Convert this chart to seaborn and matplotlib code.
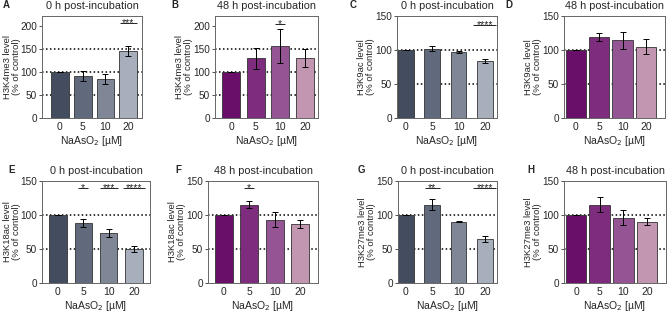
import matplotlib
matplotlib.use("Agg")
import matplotlib.pyplot as plt
import seaborn as sns
import pandas as pd

sns.set_style("white")
plt.rcParams['font.family'] = ['Liberation Sans', 'DejaVu Sans']

# data
doses = ['0', '5', '10', '20']
greys = ['#3f4b64', '#5c6782', '#7b869b', '#a4aebf']
purples = ['#780078', '#8c1f8c', '#a04a9e', '#c98fb2']

h3k4me3_0h = [100, 92, 85, 145]
h3k4me3_0h_err = [0, 11, 10, 11]
h3k4me3_48h = [100, 130, 157, 131]
h3k4me3_48h_err = [0, 23, 37, 19]
h3k9ac_0h = [100, 102, 97, 84]
h3k9ac_0h_err = [0, 4, 1, 3]
h3k9ac_48h = [100, 119, 114, 105]
h3k9ac_48h_err = [0, 6, 13, 11]
h3k18ac_0h = [100, 88, 74, 50]
h3k18ac_0h_err = [0, 6, 6, 4]
h3k18ac_48h = [100, 115, 93, 87]
h3k18ac_48h_err = [0, 5, 11, 6]
h3k27me3_0h = [100, 115, 90, 65]
h3k27me3_0h_err = [0, 8, 1, 4]
h3k27me3_48h = [100, 115, 96, 90]
h3k27me3_48h_err = [0, 11, 11, 5]

# (bar index, stars, level)
sig_A = [(3, '***', 206)]
sig_B = [(2, '*', 205)]
sig_C = [(3, '****', 137)]
sig_E = [(1, '*', 140), (2, '***', 140), (3, '****', 140)]
sig_F = [(1, '*', 139)]
sig_G = [(1, '**', 139), (3, '****', 139)]

W, H = 667, 312
fig = plt.figure(figsize=(W / 100, H / 100), dpi=100)

# letter, title, mark, vals, err, colors, sig, ymax, yticks, grid, left, right, top, bottom, xlim, barw, letter_x
panels = [
    ('A', '0 h', 'H3K4me3', h3k4me3_0h, h3k4me3_0h_err, greys, sig_A, 222, [0, 50, 100, 150, 200], [50, 100, 150],
     42, 142, 16, 118, (-0.78, 3.6), 0.78, 3),
    ('B', '48 h', 'H3K4me3', h3k4me3_48h, h3k4me3_48h_err, purples, sig_B, 222, [0, 50, 100, 150, 200], [50, 100, 150],
     215, 318, 16, 118, (-0.65, 3.53), 0.74, 171),
    ('C', '0 h', 'H3K9ac', h3k9ac_0h, h3k9ac_0h_err, greys, sig_C, 150, [0, 50, 100, 150], [50, 100],
     397, 497, 16, 118, (-0.34, 3.46), 0.6, 350),
    ('D', '48 h', 'H3K9ac', h3k9ac_48h, h3k9ac_48h_err, purples, [], 150, [0, 50, 100, 150], [50, 100],
     564, 665, 16, 118, (-0.51, 3.82), 0.88, 505),
    ('E', '0 h', 'H3K18ac', h3k18ac_0h, h3k18ac_0h_err, greys, sig_E, 150, [0, 50, 100, 150], [50, 100],
     42, 150, 181, 283, (-0.63, 3.63), 0.68, 8),
    ('F', '48 h', 'H3K18ac', h3k18ac_48h, h3k18ac_48h_err, purples, sig_F, 150, [0, 50, 100, 150], [50, 100],
     208, 318, 181, 283, (-0.63, 3.71), 0.72, 175),
    ('G', '0 h', 'H3K27me3', h3k27me3_0h, h3k27me3_0h_err, greys, sig_G, 150, [0, 50, 100, 150], [50, 100],
     398, 497, 181, 283, (-0.3, 3.46), 0.6, 358),
    ('H', '48 h', 'H3K27me3', h3k27me3_48h, h3k27me3_48h_err, purples, [], 150, [0, 50, 100, 150], [50, 100],
     564, 666, 181, 283, (-0.51, 3.8), 0.88, 527),
]

for (let, tt, mark, vals, err, cols, sig, ymax, yticks, grid,
     l, r, t, b, xlim, bw, lx) in panels:
    ax = fig.add_axes([l / W, 1 - b / H, (r - l) / W, (b - t) / H])
    df = pd.DataFrame({'dose': doses, 'val': vals})
    for g in grid:
        ax.axhline(g, color='black', linestyle=(0, (1, 1.6)), linewidth=1.1, zorder=0)
    sns.barplot(data=df, x='dose', y='val', hue='dose', palette=cols, legend=False,
                width=bw, edgecolor='#333333', linewidth=0.6, errorbar=None, ax=ax, zorder=2)
    ax.errorbar(range(len(vals)), vals, yerr=err, fmt='none', ecolor='black',
                elinewidth=0.7, capsize=2.5, capthick=0.7, zorder=3)
    for i, s, lev in sig:
        half = 0.12 + 0.08 * len(s)
        ax.hlines(lev, i - half, i + half, color='#222222', linewidth=0.7)
        ax.annotate(s, (i, lev), xytext=(0, -2.2), textcoords='offset points',
                    ha='center', va='baseline', fontsize=7.5, color='#222222')
    ax.set_xlim(*xlim)
    ax.set_ylim(0, ymax)
    ax.set_yticks(yticks)
    ax.set_xlabel('NaAsO$_2$ [µM]', fontsize=7.5, labelpad=1)
    ax.set_ylabel(mark + ' level\n(% of control)', fontsize=6.8, labelpad=0.5, linespacing=1.0)
    if l < 100:
        # first column: keep the label inside the figure
        ax.yaxis.set_label_coords((21 - l) / (r - l), 0.5)
    ax.tick_params(axis='y', length=2.5, width=0.6, pad=1, labelsize=7.2, left=True, color='#333333')
    ax.tick_params(axis='x', length=0, pad=3, labelsize=7.5)
    for sp in ax.spines.values():
        sp.set_linewidth(0.7)
        sp.set_color('#666666')
    ax.set_title(tt + ' post-incubation', fontsize=7.8, pad=5)
    fig.text(lx / W, 1 - (t - 11) / H, let, fontsize=7, fontweight='bold', ha='left', va='center')

fig.savefig('out.png', dpi=100)
